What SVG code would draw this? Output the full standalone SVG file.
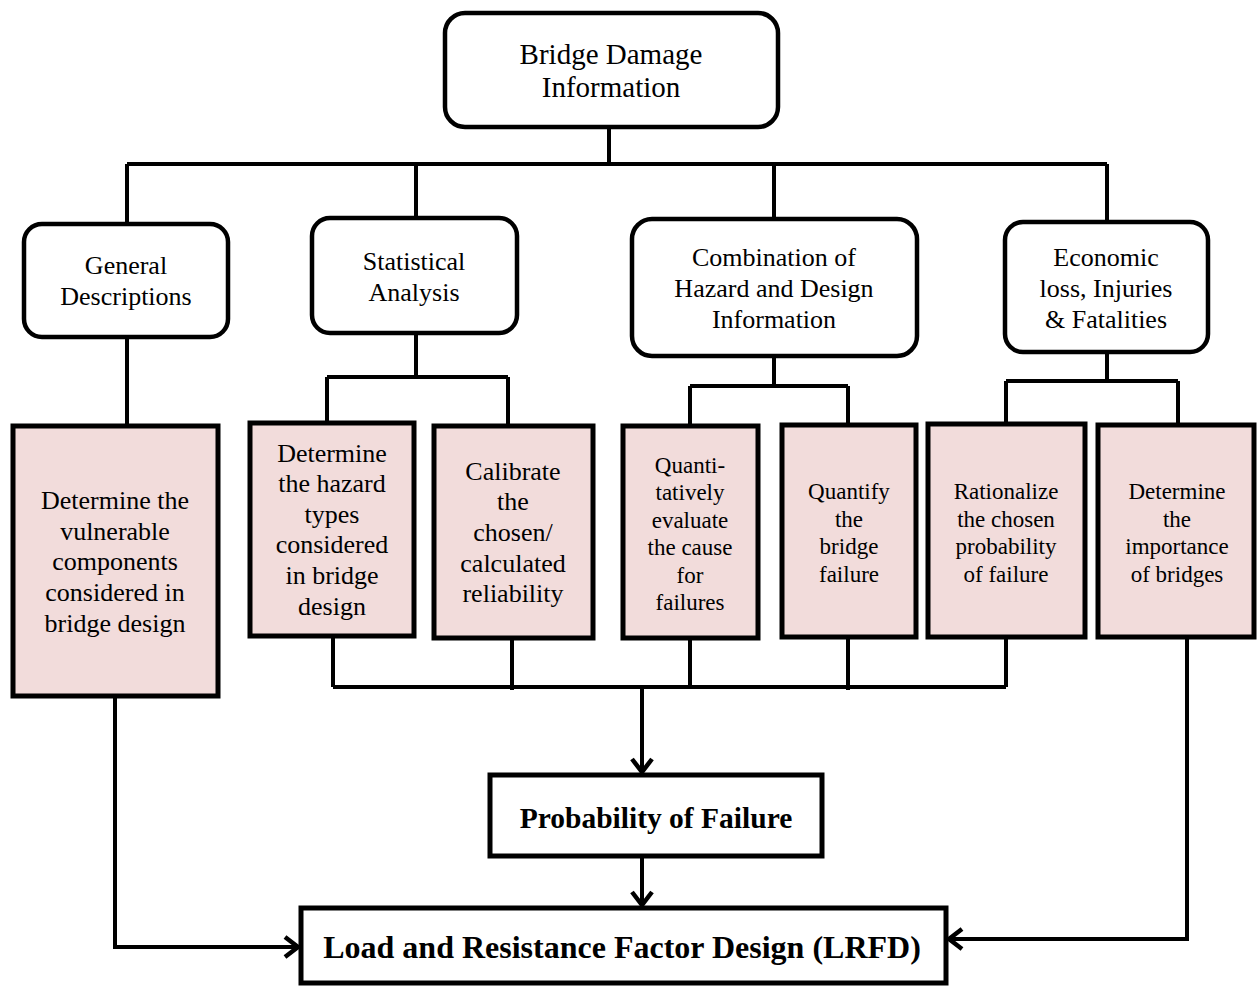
<svg xmlns="http://www.w3.org/2000/svg" width="1258" height="987" viewBox="0 0 1258 987">
<defs>
<style>
.rbox{fill:#ffffff;stroke:#000;stroke-width:4.5}
.pbox{fill:#f2dcdb;stroke:#000;stroke-width:5}
.wbox{fill:#ffffff;stroke:#000;stroke-width:5}
.t1{font-family:"Liberation Serif","Times New Roman",serif;font-size:29px;text-anchor:middle;fill:#000}
.t2{font-family:"Liberation Serif","Times New Roman",serif;font-size:26px;text-anchor:middle;fill:#000}
.t3{font-family:"Liberation Serif","Times New Roman",serif;font-size:23px;text-anchor:middle;fill:#000}
.tb{font-family:"Liberation Serif","Times New Roman",serif;font-weight:bold;text-anchor:middle;fill:#000}
.c{fill:none;stroke:#000;stroke-width:4}
</style>
<marker id="arr" markerUnits="userSpaceOnUse" markerWidth="24" markerHeight="26" refX="16" refY="12" orient="auto" viewBox="0 0 24 26">
<path d="M3,2 L16,12 L3,22" fill="none" stroke="#000" stroke-width="4.5"/>
</marker>
</defs>
<rect width="1258" height="987" fill="#ffffff"/>

<g id="connectors">
<path class="c" d="M609,127 V164 M127,164 H1107 M127,164 V224 M416,164 V218 M774,164 V219 M1107,164 V222"/>
<path class="c" d="M127,337 V426"/>
<path class="c" d="M416,333 V377 M327,377 H508 M327,377 V423 M508,377 V426"/>
<path class="c" d="M774,356 V386 M690,386 H848 M690,386 V426 M848,386 V425"/>
<path class="c" d="M1107,352 V381 M1006,381 H1178 M1006,381 V424 M1178,381 V425"/>
<path class="c" d="M333,636 V687 M512,638 V690 M690,638 V687 M848,637 V690 M1006,637 V687 M333,687 H1006"/>
<path class="c" d="M642,687 V772" marker-end="url(#arr)"/>
<path class="c" d="M642,857 V905" marker-end="url(#arr)"/>
<path class="c" d="M115,696 V947 H298" marker-end="url(#arr)"/>
<path class="c" d="M1187,637 V939 H949" marker-end="url(#arr)"/>
</g>

<g id="bridge-damage-information">
<rect class="rbox" x="445" y="13" width="333" height="114" rx="20"/>
<text class="t1" x="611" y="64">Bridge Damage</text>
<text class="t1" x="611" y="97">Information</text>
</g>

<g id="general-descriptions">
<rect class="rbox" x="24" y="224" width="204" height="113" rx="18"/>
<text class="t2" x="126" y="274">General</text>
<text class="t2" x="126" y="305">Descriptions</text>
</g>

<g id="statistical-analysis">
<rect class="rbox" x="312" y="218" width="205" height="115" rx="18"/>
<text class="t2" x="414" y="270">Statistical</text>
<text class="t2" x="414" y="301">Analysis</text>
</g>

<g id="combination">
<rect class="rbox" x="632" y="219" width="285" height="137" rx="20"/>
<text class="t2" x="774" y="266">Combination of</text>
<text class="t2" x="774" y="297">Hazard and Design</text>
<text class="t2" x="774" y="328">Information</text>
</g>

<g id="economic-loss">
<rect class="rbox" x="1005" y="222" width="203" height="130" rx="18"/>
<text class="t2" x="1106" y="266">Economic</text>
<text class="t2" x="1106" y="297">loss, Injuries</text>
<text class="t2" x="1106" y="328">&amp; Fatalities</text>
</g>

<g id="vulnerable-components">
<rect class="pbox" x="13" y="426" width="205" height="270"/>
<text class="t2" x="115" y="509">Determine the</text>
<text class="t2" x="115" y="540">vulnerable</text>
<text class="t2" x="115" y="570">components</text>
<text class="t2" x="115" y="601">considered in</text>
<text class="t2" x="115" y="632">bridge design</text>
</g>

<g id="hazard-types">
<rect class="pbox" x="250" y="423" width="164" height="213"/>
<text class="t2" x="332" y="462">Determine</text>
<text class="t2" x="332" y="492">the hazard</text>
<text class="t2" x="332" y="523">types</text>
<text class="t2" x="332" y="553">considered</text>
<text class="t2" x="332" y="584">in bridge</text>
<text class="t2" x="332" y="615">design</text>
</g>

<g id="calibrate-reliability">
<rect class="pbox" x="434" y="426" width="159" height="212"/>
<text class="t2" x="513" y="480">Calibrate</text>
<text class="t2" x="513" y="510">the</text>
<text class="t2" x="513" y="541">chosen/</text>
<text class="t2" x="513" y="572">calculated</text>
<text class="t2" x="513" y="602">reliability</text>
</g>

<g id="evaluate-cause">
<rect class="pbox" x="623" y="426" width="135" height="212"/>
<text class="t3" x="690" y="473">Quanti-</text>
<text class="t3" x="690" y="500">tatively</text>
<text class="t3" x="690" y="528">evaluate</text>
<text class="t3" x="690" y="555">the cause</text>
<text class="t3" x="690" y="583">for</text>
<text class="t3" x="690" y="610">failures</text>
</g>

<g id="quantify-failure">
<rect class="pbox" x="782" y="425" width="134" height="212"/>
<text class="t3" x="849" y="499">Quantify</text>
<text class="t3" x="849" y="527">the</text>
<text class="t3" x="849" y="554">bridge</text>
<text class="t3" x="849" y="582">failure</text>
</g>

<g id="rationalize-probability">
<rect class="pbox" x="928" y="424" width="157" height="213"/>
<text class="t3" x="1006" y="499">Rationalize</text>
<text class="t3" x="1006" y="527">the chosen</text>
<text class="t3" x="1006" y="554">probability</text>
<text class="t3" x="1006" y="582">of failure</text>
</g>

<g id="importance-of-bridges">
<rect class="pbox" x="1098" y="425" width="156" height="212"/>
<text class="t3" x="1177" y="499">Determine</text>
<text class="t3" x="1177" y="527">the</text>
<text class="t3" x="1177" y="554">importance</text>
<text class="t3" x="1177" y="582">of bridges</text>
</g>

<g id="probability-of-failure">
<rect class="wbox" x="490" y="775" width="332" height="81"/>
<text class="tb" x="656" y="828" font-size="29.5">Probability of Failure</text>
</g>

<g id="lrfd">
<rect class="wbox" x="301" y="908" width="645" height="75"/>
<text class="tb" x="622" y="958" font-size="32">Load and Resistance Factor Design (LRFD)</text>
</g>
</svg>
